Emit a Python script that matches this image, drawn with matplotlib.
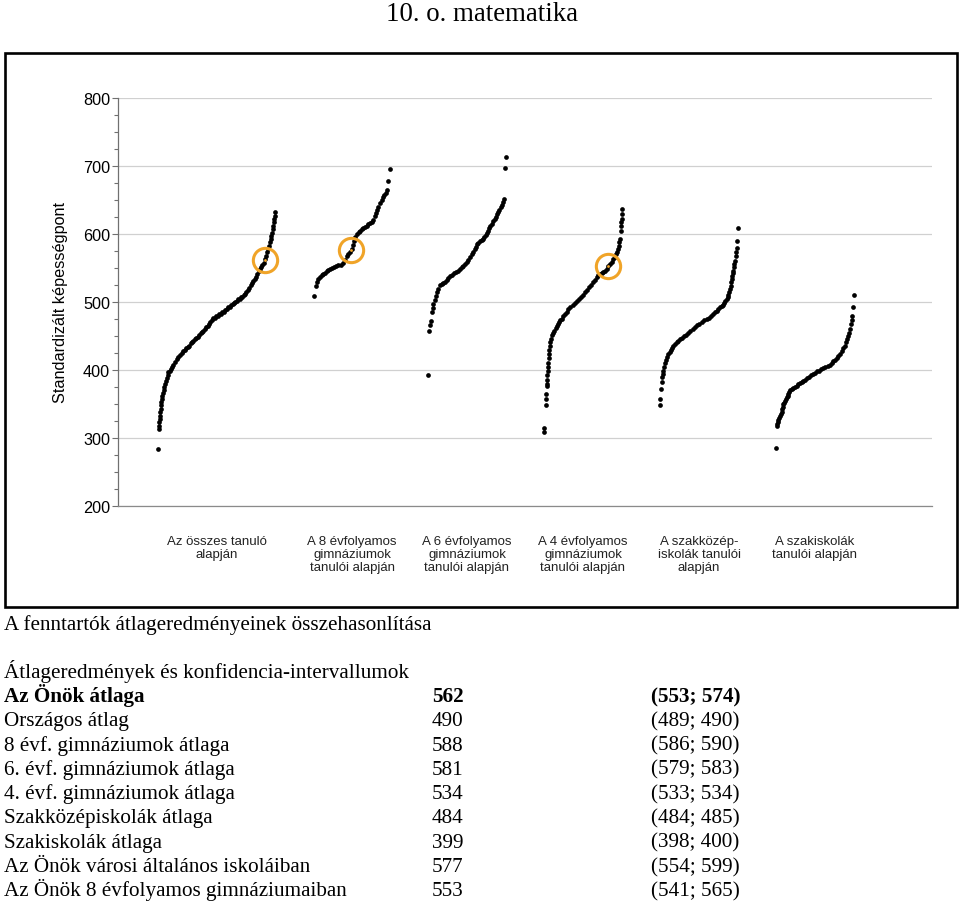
import matplotlib
matplotlib.use("Agg")
import matplotlib.pyplot as plt
from matplotlib.patches import Rectangle
from matplotlib.ticker import MultipleLocator
import numpy as np

plt.rcParams['font.family'] = ['Liberation Sans', 'DejaVu Sans']
SERIF = ['Liberation Serif', 'DejaVu Serif']

# sorted scores of each group, x = percentile rank inside the group
all_pct = [0, 0.2, 0.5, 0.8, 1.1, 1.4, 1.7, 2.0, 2.3, 2.6, 2.9, 3.5, 4.0, 4.6, 5.1, 5.7,
           6.4, 7.1, 7.9, 8.6, 9.6, 10.5, 11.5, 12.9, 14.4, 15.8, 17.2, 18.6, 20.0, 21.4,
           22.7, 24.0, 25.3, 26.6, 27.9, 29.0, 30.0, 31.3, 32.6, 33.9, 35.2, 36.4, 37.5, 38.6,
           39.8, 41.0, 42.2, 43.4, 44.6, 45.8, 47.1, 48.4, 49.7, 51.0, 52.3, 53.6, 54.9, 56.1,
           57.4, 58.6, 59.9, 61.2, 62.5, 63.7, 65.0, 66.1, 67.2, 68.4, 69.6, 70.8, 72.0, 73.2,
           74.3, 75.5, 76.7, 77.9, 79.1, 80.3, 81.4, 82.5, 83.6, 84.8, 86.0, 87.2, 88.2, 89.2,
           90.3, 91.4, 92.3, 93.2, 94.0, 94.9, 95.7, 96.3, 96.9, 97.5, 98.0, 98.4, 98.8, 99.2,
           99.6, 100]
all_score = [284, 313, 318, 323, 328, 333, 338, 343, 348, 353, 357, 362, 366, 370, 375, 379,
             384, 388, 393, 397, 399, 402, 404, 408, 412, 416, 419, 422, 425, 428,
             430, 432, 434, 436, 439, 441, 443, 445, 447, 449, 452, 454, 456, 458,
             460, 463, 465, 468, 470, 473, 476, 477, 479, 480, 482, 483, 485, 486,
             488, 490, 492, 493, 495, 497, 499, 500, 502, 504, 505, 507, 508, 510,
             512, 515, 518, 521, 525, 528, 531, 534, 537, 541, 545, 548, 551, 554,
             558, 563, 568, 573, 578, 583, 588, 592, 597, 602, 607, 612, 617, 622,
             627, 632]

gim8_pct = [0, 2.0, 3.5, 5.7, 8.0, 10.1, 12.2, 14.5, 16.8, 19.0, 21.1, 23.8, 26.5, 29.2,
            32.0, 35.3, 38.6, 40.8, 43.0, 45.2, 47.4, 49.6, 51.0, 52.5, 53.9, 56.6, 58.6,
            60.5, 62.7, 64.9, 67.1, 69.3, 71.5, 73.7, 75.9, 78.0, 79.7, 81.3, 83.0, 84.6,
            86.8, 89.0, 91.2, 92.7, 94.2, 95.7, 97.8, 100]
gim8_score = [509, 524, 529, 534, 537, 539, 541, 543, 545, 547, 549, 550, 551, 553,
              554, 555, 557, 562, 567, 571, 574, 578, 584, 590, 595, 600, 603,
              605, 607, 609, 610, 612, 614, 616, 618, 621, 626, 631, 636, 640,
              645, 650, 654, 657, 661, 664, 678, 695]

gim6_pct = [0, 1.9, 3.0, 3.5, 4.7, 5.8, 6.8, 8.5, 10.3, 11.8, 13.2, 15.4, 17.5, 19.6, 21.8,
            24.0, 26.2, 28.3, 30.4, 33.0, 35.6, 38.3, 41.0, 43.1, 45.3, 47.4, 49.5, 51.7,
            53.8, 56.0, 58.1, 60.3, 61.4, 62.4, 64.5, 66.6, 68.8, 70.9, 72.4, 73.8, 75.3,
            76.7, 78.1, 79.5, 81.6, 83.7, 85.9, 87.3, 88.7, 90.1, 91.6, 93.0, 94.5, 96.0,
            97.4, 98.7, 100]
gim6_score = [392, 458, 466, 472, 485, 491, 497, 503, 509, 514, 519, 525, 527, 528, 530,
              533, 536, 538, 540, 542, 544, 546, 548, 551, 553, 556, 559, 562,
              566, 570, 574, 578, 581, 585, 587, 589, 591, 593, 596, 599, 602,
              605, 609, 612, 615, 619, 622, 625, 629, 632, 635, 639, 642, 647,
              652, 697, 713]

gim4_pct = [0, 0.4, 2.2, 2.3, 2.4, 3.3, 3.5, 3.8, 4.2, 4.5, 5.0, 5.5, 5.9, 6.4, 7.0, 7.7,
            8.3, 9.0, 10.4, 11.9, 13.4, 14.8, 16.3, 17.9, 19.5, 21.1, 22.7, 24.8, 27.0,
            29.1, 31.2, 33.9, 36.6, 39.2, 41.9, 44.6, 47.2, 49.9, 52.6, 55.2, 57.9, 60.5,
            63.2, 65.4, 67.5, 69.7, 71.8, 73.9, 76.1, 78.2, 80.3, 82.5, 84.6, 86.7, 88.9,
            91.0, 92.4, 93.9, 95.3, 96.0, 96.7, 97.4, 98.3, 98.8, 99.2, 99.6, 99.8, 100]
gim4_score = [309, 314, 348, 357, 365, 376, 380, 385, 392, 399, 405, 411, 417, 423, 429, 436,
              441, 446, 451, 455, 458, 462, 465, 468, 470, 473, 475, 479, 483,
              486, 490, 493, 496, 499, 502, 505, 508, 511, 514, 518, 522, 525,
              529, 533, 537, 539, 541, 543, 544, 546, 549, 553, 556, 559, 563,
              566, 570, 574, 578, 583, 588, 593, 605, 612, 617, 622, 630, 637]

szki_pct = [0, 0.3, 1.3, 2.2, 2.9, 3.4, 4.2, 5.3, 6.4, 7.8, 9.2, 10.6, 12.2, 13.9, 15.5,
            17.1, 19.2, 21.3, 23.5, 25.6, 28.3, 31.0, 33.6, 36.3, 39.0, 41.7, 44.4, 47.1,
            50.3, 53.5, 56.7, 59.9, 62.5, 65.2, 67.8, 70.5, 72.6, 74.8, 76.9, 79.1, 80.7,
            82.3, 83.9, 85.5, 86.6, 87.6, 88.7, 89.7, 90.4, 91.2, 91.9, 92.6, 93.3, 94.0,
            94.7, 95.5, 96.2, 96.8, 97.4, 98.2, 99.1, 100]
szki_score = [348, 357, 372, 382, 390, 394, 399, 405, 411, 415, 419, 423, 427, 430, 433,
              436, 438, 441, 443, 445, 447, 450, 452, 455, 458, 461, 463, 466,
              468, 470, 473, 475, 477, 480, 482, 485, 487, 489, 492, 494, 496,
              499, 501, 504, 508, 511, 515, 519, 524, 529, 534, 538, 542, 546,
              551, 556, 561, 567, 573, 580, 589, 609]

szi_pct = [0, 0.9, 1.6, 2.3, 3.0, 4.1, 5.2, 6.3, 7.4, 8.1, 8.8, 9.4, 10.5, 11.6, 12.7,
           13.8, 14.9, 16.0, 17.1, 18.1, 20.2, 22.4, 24.5, 26.6, 28.8, 30.9, 33.1, 35.2,
           37.8, 40.4, 43.0, 45.5, 48.1, 50.7, 53.3, 55.9, 58.4, 61.0, 63.7, 66.5, 69.2,
           71.9, 74.0, 76.2, 78.3, 80.4, 82.6, 84.7, 86.9, 89.0, 90.4, 91.8, 93.2, 94.6,
           95.7, 96.8, 97.5, 98.1, 99.0, 100]
szi_score = [285, 318, 321, 324, 327, 330, 333, 335, 338, 342, 346, 350, 352, 355, 357,
             360, 362, 365, 368, 370, 372, 373, 375, 377, 379, 381, 383, 384,
             386, 388, 390, 392, 394, 396, 398, 399, 401, 403, 405, 406, 408,
             410, 413, 415, 418, 421, 424, 428, 432, 436, 441, 445, 450, 455,
             461, 468, 474, 480, 493, 510]

categories = ["Az összes tanuló\nalapján",
              "A 8 évfolyamos\ngimnáziumok\ntanulói alapján",
              "A 6 évfolyamos\ngimnáziumok\ntanulói alapján",
              "A 4 évfolyamos\ngimnáziumok\ntanulói alapján",
              "A szakközép-\niskolák tanulói\nalapján",
              "A szakiskolák\ntanulói alapján"]

# school's own results marked with a ring
marked_group = [0, 1, 3]
marked_score = [562, 576, 553]

table_labels = ["Az Önök átlaga", "Országos átlag", "8 évf. gimnáziumok átlaga",
                "6. évf. gimnáziumok átlaga", "4. évf. gimnáziumok átlaga",
                "Szakközépiskolák átlaga", "Szakiskolák átlaga",
                "Az Önök városi általános iskoláiban", "Az Önök 8 évfolyamos gimnáziumaiban"]
table_means = [562, 490, 588, 581, 534, 484, 399, 577, 553]
table_ci_lo = [553, 489, 586, 579, 533, 484, 398, 554, 541]
table_ci_hi = [574, 490, 590, 583, 534, 485, 400, 599, 565]

groups = [(all_pct, all_score), (gim8_pct, gim8_score), (gim6_pct, gim6_score),
          (gim4_pct, gim4_score), (szki_pct, szki_score), (szi_pct, szi_score)]

# layout of each group along the x axis (axis units = pixels from left spine)
slot_start = [40.3, 196, 310, 426, 542, 658]
slot_width = [116.7, 76, 78, 78, 78, 77.5]
ORANGE = '#F0A428'

W, H = 960, 903
fig = plt.figure(figsize=(W / 100, H / 100), dpi=100)


def fx(x):
    return x / W


def fy(y):
    return 1 - y / H


fig.text(fx(482), fy(21), "10. o. matematika", family=SERIF, fontsize=19.4,
         ha='center', va='baseline')

fig.patches.append(Rectangle((fx(5), fy(608)), fx(957) - fx(5), fy(54) - fy(608),
                             transform=fig.transFigure, fill=False, lw=1.9,
                             edgecolor='black'))

ax = fig.add_axes([fx(118), fy(507), fx(932) - fx(118), fy(99) - fy(507)])

centers = []
for (pct, score), s0, w in zip(groups, slot_start, slot_width):
    x = s0 + np.array(pct) / 100 * w
    ax.plot(x, score, 'o', ms=3.4, mew=0, color='black', zorder=3)
    centers.append(s0 + w / 2)

for g, sc in zip(marked_group, marked_score):
    pct, score = groups[g]
    x = slot_start[g] + np.interp(sc, score, pct) / 100 * slot_width[g]
    ax.plot(x, sc, 'o', ms=17.5, mfc='none', mec=ORANGE, mew=2.2, zorder=4)
    ax.plot(x, sc, 'o', ms=2.0, mew=0, color=ORANGE, zorder=5)

ax.set_xlim(0, 814)
ax.set_ylim(200, 800)
ax.set_yticks(range(200, 801, 100))
ax.yaxis.set_minor_locator(MultipleLocator(25))
ax.grid(axis='y', which='major', color='#d0d0d0', lw=0.9)
ax.set_axisbelow(True)
for side in ['top', 'right']:
    ax.spines[side].set_visible(False)
ax.spines['left'].set_color('#707070')
ax.spines['left'].set_linewidth(0.9)
ax.spines['bottom'].set_color('#8a8a8a')
ax.spines['bottom'].set_linewidth(0.9)
ax.tick_params(axis='y', which='major', length=4.3, width=0.8, color='#707070',
               labelsize=11.7, pad=1.5)
ax.tick_params(axis='y', which='minor', length=2.8, width=0.8, color='#707070')

ax.set_xticks(centers, categories)
ax.tick_params(axis='x', length=0, pad=21, labelsize=9.5, labelcolor='#222222')
for lbl in ax.get_xticklabels():
    lbl.set_linespacing(1.08)

fig.text(fx(60), fy(303), "Standardizált képességpont", rotation=90, fontsize=11.7,
         ha='center', va='center')

# table under the chart
fig.text(fx(4), fy(630), "A fenntartók átlageredményeinek összehasonlítása",
         family=SERIF, fontsize=15.2, va='baseline')
fig.text(fx(4), fy(678), "Átlageredmények és konfidencia-intervallumok",
         family=SERIF, fontsize=15.2, va='baseline')
for i, (lab, m, lo, hi) in enumerate(zip(table_labels, table_means, table_ci_lo, table_ci_hi)):
    y = 702 + 24.3 * i
    weight = 'bold' if i == 0 else 'normal'
    fig.text(fx(4), fy(y), lab, family=SERIF, fontsize=15.2, weight=weight, va='baseline')
    fig.text(fx(432), fy(y), str(m), family=SERIF, fontsize=15.2, weight=weight,
             va='baseline')
    fig.text(fx(651), fy(y), f"({lo}; {hi})", family=SERIF, fontsize=15.2,
             weight=weight, va='baseline')

fig.savefig("out.png", dpi=100)
